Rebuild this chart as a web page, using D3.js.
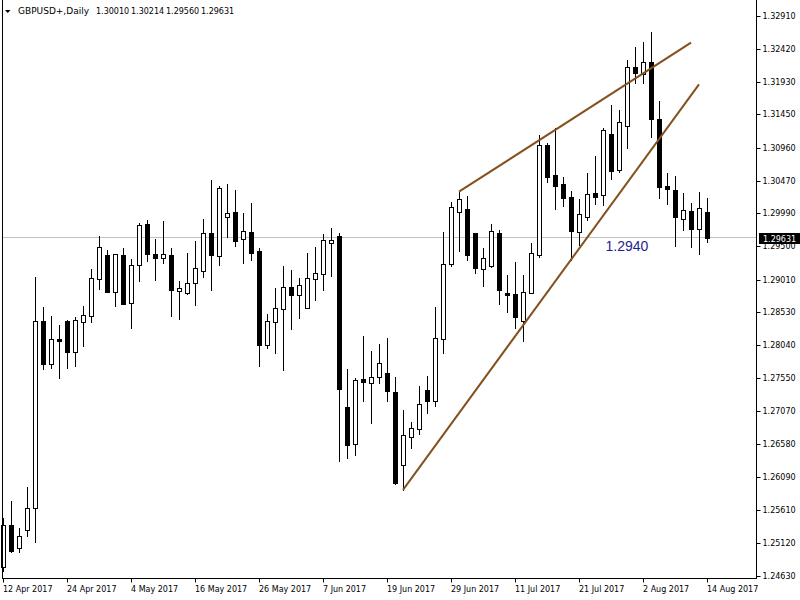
<!DOCTYPE html>
<html><head><meta charset="utf-8">
<script src="https://cdn.jsdelivr.net/npm/d3@7"></script>
<style>html,body{margin:0;padding:0;background:#fff;overflow:hidden;} svg{display:block;}</style>
</head><body>
<script>
// ---------------- data ----------------
const symbolTitle = "GBPUSD+,Daily";
const lastQuote = ["1.30010", "1.30214", "1.29560", "1.29631"];
const firstDay = "2017-04-12", lastDay = "2017-08-14";

const openVals = [1.24761,1.25381,1.25037,1.25307,1.25628,1.28397,1.27757,1.28124,1.28397,1.27943,
1.28387,1.28475,1.29022,1.29373,1.28830,1.29373,1.28659,1.29220,1.29831,1.29387,
1.29324,1.29368,1.28845,1.28806,1.28954,1.29141,1.29693,1.29362,1.29939,1.30008,
1.29605,1.29713,1.29432,1.28042,1.28387,1.28579,1.28895,1.28786,1.28594,1.29022,
1.29096,1.29554,1.29653,1.27121,1.26574,1.27540,1.27476,1.27565,1.27628,1.27348,
1.26261,1.26687,1.26796,1.27377,1.27219,1.28135,1.29240,1.30004,1.30048,1.29693,
1.29161,1.29214,1.29693,1.28811,1.28796,1.28401,1.28815,1.29373,1.30999,1.30555,
1.30422,1.30225,1.29717,1.29939,1.30285,1.30260,1.31161,1.30629,1.31284,1.32147,
1.32044,1.32230,1.31379,1.30393,1.30329,1.29900,1.30023,1.29761,1.30010];

const highVals = [1.25485,1.25741,1.25333,1.25939,1.29052,1.28600,1.28471,1.28338,1.28412,1.28461,
1.28623,1.29166,1.29653,1.29447,1.29383,1.29472,1.29314,1.29850,1.29890,1.29609,
1.29875,1.29476,1.28988,1.29407,1.29580,1.29905,1.30481,1.30393,1.30422,1.30333,
1.29993,1.30141,1.29481,1.28501,1.28885,1.29210,1.29151,1.29033,1.29402,1.29495,
1.29679,1.29776,1.29702,1.27687,1.27550,1.28180,1.27954,1.28061,1.28150,1.27569,
1.27081,1.26908,1.27436,1.27584,1.28600,1.29708,1.30161,1.30308,1.30245,1.29698,
1.29476,1.29831,1.29742,1.29077,1.29265,1.29077,1.29546,1.31146,1.31028,1.31246,
1.30530,1.30319,1.30200,1.30580,1.30836,1.31246,1.31590,1.31516,1.32255,1.32443,
1.32517,1.32673,1.31649,1.30580,1.30540,1.30285,1.30146,1.30308,1.30214];

const lowVals = [1.24701,1.24978,1.24987,1.25219,1.25135,1.27683,1.27707,1.27550,1.27707,1.27732,
1.28027,1.28387,1.28874,1.28821,1.28623,1.28644,1.28298,1.28988,1.29288,1.29008,
1.29259,1.28475,1.28427,1.28796,1.28634,1.29052,1.28855,1.29225,1.29643,1.29510,
1.29259,1.29299,1.27736,1.27993,1.27928,1.27677,1.28279,1.28446,1.28585,1.28707,
1.28855,1.29067,1.26332,1.26365,1.26412,1.27219,1.26885,1.27485,1.27219,1.25988,
1.25899,1.26524,1.26727,1.27042,1.27145,1.27920,1.29214,1.29436,1.29299,1.29111,
1.28919,1.29191,1.28653,1.28534,1.28298,1.28106,1.28806,1.29348,1.30456,1.30048,
1.30097,1.29299,1.29520,1.29890,1.30122,1.30112,1.30496,1.30604,1.30959,1.31920,
1.31911,1.31121,1.30220,1.30127,1.29510,1.29742,1.29495,1.29383,1.29560];

const closeVals = [1.25381,1.25001,1.25219,1.25628,1.28397,1.27757,1.28127,1.28101,1.27943,1.28407,
1.28486,1.29028,1.29486,1.28826,1.29383,1.28648,1.29225,1.29816,1.29387,1.29333,
1.29383,1.28860,1.28880,1.28954,1.29176,1.29693,1.29377,1.30359,1.29989,1.29584,
1.29727,1.29407,1.28042,1.28397,1.28589,1.28895,1.28786,1.28925,1.29028,1.29102,
1.29594,1.29594,1.27396,1.26568,1.27525,1.27500,1.27565,1.27776,1.27367,1.25998,
1.26709,1.26811,1.27166,1.27219,1.28141,1.29235,1.30078,1.30196,1.29373,1.29185,
1.29324,1.29723,1.28860,1.28786,1.28461,1.28821,1.29398,1.30999,1.30530,1.30397,
1.30220,1.29727,1.29974,1.30270,1.30234,1.31220,1.30619,1.31334,1.32147,1.32058,
1.32230,1.31379,1.30382,1.30344,1.29930,1.30033,1.29753,1.30063,1.29631];

const priceTicks = [1.32910,1.32420,1.31930,1.31450,1.30960,1.30470,1.29990,1.29500,1.29010,
1.28530,1.28040,1.27550,1.27070,1.26580,1.26090,1.25610,1.25120,1.24630];
const dateTickIdx = [0,8,16,24,32,40,48,56,64,72,80,88];
const dateTickLabels = ["12 Apr 2017","24 Apr 2017","4 May 2017","16 May 2017","26 May 2017","7 Jun 2017",
"19 Jun 2017","29 Jun 2017","11 Jul 2017","21 Jul 2017","2 Aug 2017","14 Aug 2017"];

const trendUpper = [{bar:57, price:1.30308},{bar:86, price:1.32511}];
const trendLower = [{bar:50, price:1.25899},{bar:87, price:1.31896}];
const noteLabel = {text:"1.2940", bar:78, price:1.29432};
const lastPrice = 1.29631;

// ---------------- chart ----------------
const W = 800, H = 600;
const plot = {left:2, right:756, bottom:578};
const FONT = "'DejaVu Sans', Tahoma, sans-serif";

const parse = d3.timeParse("%Y-%m-%d");
const dates = d3.timeDay.range(parse(firstDay), d3.timeDay.offset(parse(lastDay), 1))
  .filter(d => d.getDay() !== 0 && d.getDay() !== 6);
const bars = dates.map((d, i) => ({i, date:d, o:openVals[i], h:highVals[i], l:lowVals[i], c:closeVals[i]}));

const x = d3.scalePoint().domain(d3.range(bars.length)).range([3, 707]);
const y = d3.scaleLinear().domain([1.24630, 1.32910]).range([575.8, 15.7]);

const svg = d3.select("body").append("svg").attr("width", W).attr("height", H)
  .style("font-family", FONT);
svg.append("rect").attr("width", W).attr("height", H).attr("fill", "#fff");

// current price line
svg.append("line")
  .attr("x1", plot.left).attr("x2", plot.right)
  .attr("y1", Math.round(y(lastPrice)) - 0.5).attr("y2", Math.round(y(lastPrice)) - 0.5)
  .attr("stroke", "#c0c0c0").attr("stroke-width", 1);

// candles
const g = svg.append("g");
const cg = g.selectAll("g.c").data(bars).join("g").attr("class", "c");
cg.append("line")
  .attr("x1", d => x(d.i) + 0.5).attr("x2", d => x(d.i) + 0.5)
  .attr("y1", d => Math.round(y(d.h))).attr("y2", d => Math.round(y(d.l)) + 1)
  .attr("stroke", "#000").attr("stroke-width", 1).attr("shape-rendering", "crispEdges");
cg.append("rect")
  .attr("x", d => x(d.i) - 2 + 0.5)
  .attr("y", d => Math.round(y(Math.max(d.o, d.c))) + 0.5)
  .attr("width", 4)
  .attr("height", d => Math.max(0.01, Math.round(y(Math.min(d.o, d.c))) - Math.round(y(Math.max(d.o, d.c)))))
  .attr("fill", d => d.c >= d.o ? "#fff" : "#000")
  .attr("stroke", "#000").attr("stroke-width", 1);

// trend lines
const lineGen = d3.line().x(p => x(p.bar)).y(p => y(p.price));
[trendUpper, trendLower].forEach(t => {
  svg.append("path").attr("d", lineGen(t)).attr("fill", "none")
    .attr("stroke", "#83501f").attr("stroke-width", 2);
});

// note label
svg.append("text").attr("x", x(noteLabel.bar)).attr("y", y(noteLabel.price))
  .attr("text-anchor", "middle").attr("font-family", "'Liberation Sans', Arial, sans-serif")
  .attr("font-size", 14).attr("fill", "#1e1e8c").text(noteLabel.text);

// frame
svg.append("line").attr("x1", plot.left + 0.5).attr("x2", plot.left + 0.5).attr("y1", 0).attr("y2", plot.bottom + 1)
  .attr("stroke", "#000");
svg.append("line").attr("x1", plot.right + 0.5).attr("x2", plot.right + 0.5).attr("y1", 0).attr("y2", plot.bottom + 1)
  .attr("stroke", "#000");
svg.append("line").attr("x1", plot.left).attr("x2", plot.right + 1).attr("y1", plot.bottom + 0.5).attr("y2", plot.bottom + 0.5)
  .attr("stroke", "#000");

// right price axis
const yAxis = d3.axisRight(y).tickValues(priceTicks).tickSize(4).tickPadding(2)
  .tickFormat(d3.format(".5f"));
const ya = svg.append("g").attr("transform", `translate(${plot.right + 0.5},0)`).call(yAxis);
ya.select(".domain").remove();
ya.selectAll(".tick").attr("transform", d => `translate(0,${Math.round(y(d)) + 0.5})`);
ya.selectAll(".tick line").attr("stroke", "#000");
ya.selectAll(".tick text").attr("font-family", FONT).attr("font-size", 8).attr("fill", "#000")
  .attr("x", 6).attr("dy", "0.34em");

// bottom date axis
const xAxis = d3.axisBottom(x).tickValues(dateTickIdx).tickSize(4).tickPadding(0)
  .tickFormat((d, k) => dateTickLabels[k]);
const xa = svg.append("g").attr("transform", `translate(0,${plot.bottom + 0.5})`).call(xAxis);
xa.select(".domain").remove();
xa.selectAll(".tick").attr("transform", d => `translate(${x(d) + 0.5},${0})`);
xa.selectAll(".tick line").attr("stroke", "#000");
xa.selectAll(".tick text").attr("font-family", FONT).attr("font-size", 8).attr("fill", "#000")
  .attr("text-anchor", "start").attr("x", -0.5).attr("y", 13).attr("dy", 0);

// last price box
const ly = Math.round(y(lastPrice));
svg.append("rect").attr("x", 759).attr("y", ly - 5).attr("width", 41).attr("height", 11).attr("fill", "#000");
svg.append("text").attr("x", 763).attr("y", ly + 3.5).attr("font-size", 8).attr("fill", "#fff")
  .text(d3.format(".5f")(lastPrice));

// title
svg.append("path").attr("d", "M5,10 L10.5,10 L7.75,13 Z").attr("fill", "#000");
svg.append("text").attr("x", 18).attr("y", 14).attr("font-size", 9).attr("fill", "#000")
  .text(symbolTitle);
svg.append("g").selectAll("text").data(lastQuote).join("text")
  .attr("x", (d, k) => 96 + k * 35).attr("y", 14).attr("font-size", 8).attr("fill", "#000")
  .text(d => d);
</script>
</body></html>
